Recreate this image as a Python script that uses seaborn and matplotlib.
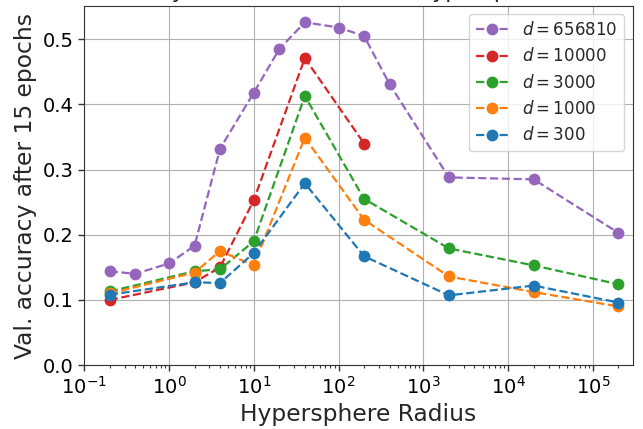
import numpy as np
import pandas as pd
import matplotlib
matplotlib.use("Agg")
import matplotlib.pyplot as plt
import seaborn as sns

# hypersphere radius values for each dimension d
radius_656810 = [0.2, 0.4, 1, 2, 4, 10, 20, 40, 100, 200, 400, 2000, 20000, 200000]
acc_656810 = [0.144, 0.140, 0.156, 0.183, 0.332, 0.418, 0.485, 0.526, 0.518, 0.505, 0.431, 0.288, 0.285, 0.203]

radius_10000 = [0.2, 2, 4, 10, 40, 200]
acc_10000 = [0.100, 0.127, 0.150, 0.253, 0.471, 0.340]

radius_small = [0.2, 2, 4, 10, 40, 200, 2000, 20000, 200000]
acc_3000 = [0.113, 0.144, 0.147, 0.190, 0.413, 0.255, 0.179, 0.153, 0.124]
acc_1000 = [0.110, 0.142, 0.175, 0.153, 0.349, 0.223, 0.136, 0.112, 0.090]
acc_300 = [0.108, 0.127, 0.126, 0.172, 0.279, 0.167, 0.107, 0.122, 0.096]

series = [
    ("656810", radius_656810, acc_656810, "tab:purple"),
    ("10000", radius_10000, acc_10000, "tab:red"),
    ("3000", radius_small, acc_3000, "tab:green"),
    ("1000", radius_small, acc_1000, "tab:orange"),
    ("300", radius_small, acc_300, "tab:blue"),
]

sns.set_style("ticks", {"axes.edgecolor": "0.2", "xtick.color": "0.2", "ytick.color": "0.2"})
plt.rcParams['font.family'] = ['DejaVu Sans']

fig, ax = plt.subplots(figsize=(6.43, 4.29), dpi=100)
fig.subplots_adjust(left=0.131, right=0.984, bottom=0.149, top=0.986)

for d, r, acc, color in series:
    df = pd.DataFrame({"radius": r, "acc": acc})
    sns.lineplot(data=df, x="radius", y="acc", ax=ax, color=color, estimator=None,
                 marker="o", markersize=8.5, markeredgewidth=0, linestyle="--",
                 linewidth=1.6, label=f"$d = {d}$")

ax.set_xscale("log")
ax.set_xlim(0.1, 2.95e5)
ax.set_ylim(0, 0.551)
ax.set_yticks([0.0, 0.1, 0.2, 0.3, 0.4, 0.5])
ax.grid(True, which="major", color="#b0b0b0", linewidth=0.8)
ax.tick_params(axis="both", which="major", labelsize=14, length=4, width=1, labelcolor="black")
ax.tick_params(axis="x", which="minor", length=2.5, width=0.8)
ax.set_xlabel("Hypersphere Radius", fontsize=16.8)
ax.set_ylabel("Val. accuracy after 15 epochs", fontsize=16.8)
ax.set_title("Accuracy as a function of the Hypersphere radius", fontsize=16)
ax.legend(loc="upper right", fontsize=12, frameon=True)

plt.savefig("out.png", dpi=100)
plt.close()
